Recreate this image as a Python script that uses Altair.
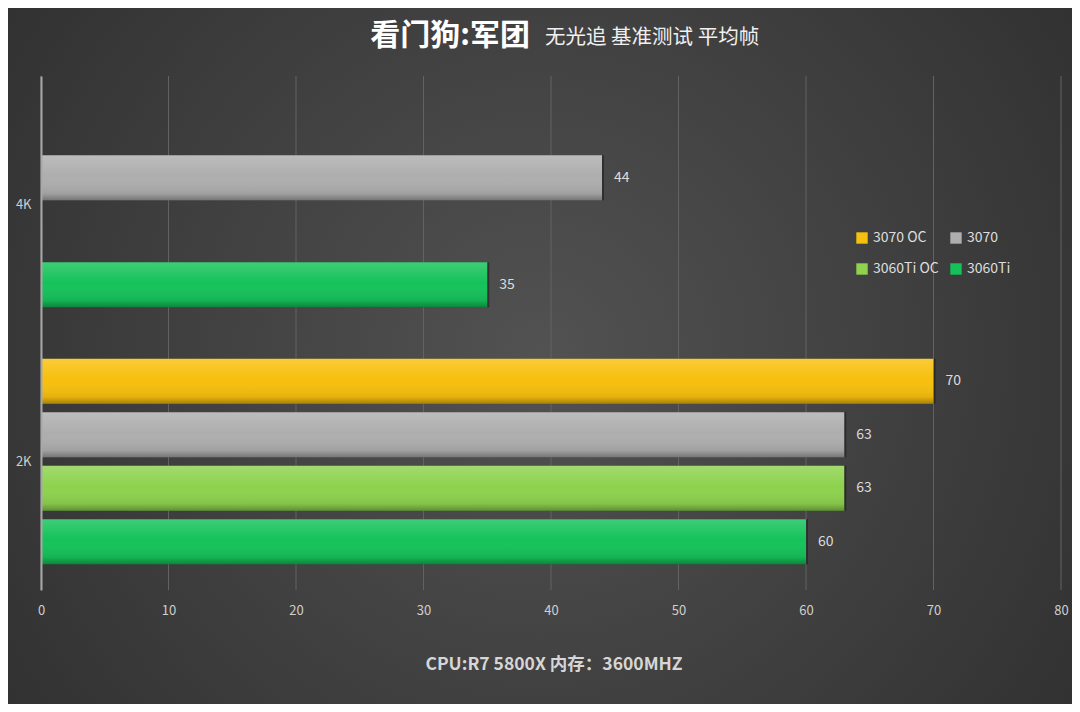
import altair as alt
import pandas as pd

groups = ["4K", "4K", "2K", "2K", "2K", "2K"]
series = ["3070", "3060Ti", "3070 OC", "3070", "3060Ti OC", "3060Ti"]
values = [44, 35, 70, 63, 63, 60]

series_order = ["3070 OC", "3070", "3060Ti OC", "3060Ti"]
legend_order = ["3070 OC", "3060Ti OC", "3070", "3060Ti"]
legend_colors = ["#f7c00e", "#8ed24e", "#aeaeae", "#15c25a"]
group_order = ["4K", "2K"]
x_ticks = [0, 10, 20, 30, 40, 50, 60, 70, 80]

title_main = "看门狗:军团"
title_sub = "无光追 基准测试 平均帧"
footer = "CPU:R7 5800X 内存：3600MHZ"

df = pd.DataFrame({"group": groups, "series": series, "value": values})
ticks_df = pd.DataFrame({"t": x_ticks})

W, H = 1020, 514
PAD = {"left": 33, "top": 68, "right": 11, "bottom": 114}
FONT = "Noto Sans CJK SC"

one = pd.DataFrame({"a": [0]})

bg = alt.Chart(one).mark_rect(
    fill={
        "gradient": "radial",
        "x1": 0.5, "y1": 0.5, "r1": 0,
        "x2": 0.5, "y2": 0.5, "r2": 0.72,
        "stops": [
            {"offset": 0, "color": "#525252"},
            {"offset": 1, "color": "#2b2b2b"},
        ],
    }
).encode(
    x=alt.value(-PAD["left"]),
    x2=alt.value(W + PAD["right"]),
    y=alt.value(-PAD["top"]),
    y2=alt.value(H + PAD["bottom"]),
)

x_scale = alt.Scale(domain=[0, 80])

grid = alt.Chart(ticks_df).mark_rule(color="#626262", strokeWidth=1).encode(
    x=alt.X("t:Q", scale=x_scale),
    y=alt.value(0),
    y2=alt.value(H),
)

y_enc = alt.Y(
    "group:N",
    scale=alt.Scale(domain=group_order, paddingInner=0.2, paddingOuter=0.1),
    axis=alt.Axis(
        title=None, ticks=False, labelColor="#cfcfcf", labelFontSize=13,
        labelPadding=10, domainColor="#a8a8a8", domainWidth=2,
        labelFont=FONT, zindex=1,
    ),
)
yoff = alt.YOffset(
    "series:N",
    scale=alt.Scale(domain=series_order, paddingInner=0.16, paddingOuter=0),
)
x_enc = alt.X(
    "value:Q",
    scale=x_scale,
    axis=alt.Axis(
        title=None, values=x_ticks, ticks=False, domain=False, grid=False,
        labelColor="#cfcfcf", labelFontSize=13, labelPadding=14,
        labelFont=FONT, zindex=1, labelFlush=False,
    ),
)

shadow = alt.Chart(df).mark_bar(
    color="#151515", opacity=0.5, yOffset=3, xOffset=2
).encode(x="value:Q", y="group:N", yOffset=yoff)

bars = alt.Chart(df).mark_bar().encode(
    x=x_enc,
    y=y_enc,
    yOffset=yoff,
    color=alt.Color(
        "series:N",
        scale=alt.Scale(domain=legend_order, range=legend_colors),
        legend=alt.Legend(
            title=None, orient="none", legendX=814, legendY=155, columns=2,
            symbolType="square", symbolSize=130, symbolStrokeWidth=0,
            labelColor="#dedede", labelFontSize=14, labelFont=FONT,
            columnPadding=10, rowPadding=17,
        ),
    ),
)

shade = alt.Chart(df).mark_bar(
    fill={
        "gradient": "linear",
        "x1": 0, "y1": 0, "x2": 0, "y2": 1,
        "stops": [
            {"offset": 0, "color": "rgba(255,255,255,0.18)"},
            {"offset": 0.45, "color": "rgba(255,255,255,0.0)"},
            {"offset": 0.85, "color": "rgba(0,0,0,0.08)"},
            {"offset": 1, "color": "rgba(0,0,0,0.32)"},
        ],
    }
).encode(x="value:Q", y="group:N", yOffset=yoff)

labels = alt.Chart(df).mark_text(
    align="left", baseline="middle", dx=12, color="#dcdcdc", fontSize=14,
    font=FONT,
).encode(x="value:Q", y="group:N", yOffset=yoff, text="value:Q")

t1 = alt.Chart(one).mark_text(
    text=title_main, align="right", baseline="middle", fontSize=30,
    fontWeight="bold", font=FONT, color="#ffffff",
).encode(x=alt.value(489), y=alt.value(-40))

t2 = alt.Chart(one).mark_text(
    text=title_sub, align="left", baseline="middle", fontSize=20.5,
    font=FONT, color="#f0f0f0",
).encode(x=alt.value(504), y=alt.value(-38))

t3 = alt.Chart(one).mark_text(
    text=footer, align="center", baseline="middle", fontSize=17.5,
    fontWeight="bold", font=FONT, color="#d6d6d6",
).encode(x=alt.value(513), y=alt.value(589))

chart = alt.layer(bg, grid, shadow, bars, shade, labels, t1, t2, t3).properties(
    width=W, height=H,
    autosize=alt.AutoSizeParams(type="none"),
    padding=PAD,
).configure(background="#333333").configure_view(stroke=None)

chart.save("out.html", embed_options={"renderer": "svg", "actions": False})
